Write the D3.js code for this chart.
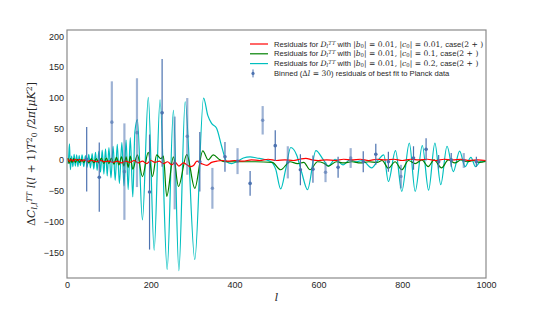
<!DOCTYPE html>
<html>
<head>
<meta charset="utf-8">
<script src="https://cdn.jsdelivr.net/npm/d3@7"></script>
<style>
  body { margin: 0; background: #fff; }
  svg { display: block; }
  .tick text { font-family: "Liberation Sans", Arial, sans-serif; font-size: 9px; fill: #262626; }
</style>
</head>
<body>
<div id="chart"></div>
<script>
"use strict";

// residual curves as [l, value] pairs at the wiggles
var redCurve = [
    [2, 2], [6, -3], [10, 1], [15, -2], [20, 1], [25, -1], [30, 1], [35, -2], [40, 0], [50, -2],
    [60, -1], [70, -3], [80, -1], [90, -3], [100, -2], [110, -4], [120, -2], [130, -5], [140, -2],
    [150, -4], [160, -1], [170, -5], [180, -2], [190, -6], [200, -1], [210, -4], [220, -2], [230, -6],
    [240, -3], [250, -8], [258, -4], [267, -10], [278, -5], [286, -8], [294, -11], [302, -9],
    [310, -2], [321, -6], [334, -9], [345, -4], [358, -2], [370, -1], [385, -2], [400, -1],
    [420, -2], [440, 0], [460, -1], [480, 1], [500, -1], [520, 0], [540, -1], [555, 1], [570, 2.5],
    [585, 0], [600, -1], [620, 0], [640, -1], [660, 1], [680, 0], [700, 1], [720, -1], [740, 1],
    [760, 0], [780, 1], [800, -1], [820, 1], [840, 0], [860, 1], [880, -1], [900, 1], [920, 0],
    [940, 1], [960, -1], [980, 0], [1000, -1]
];

var greenCurve = [
    [2, 3], [5, -6], [8, 2], [12, -4], [16, 2], [20, -4], [25, 1], [30, -4], [35, 1], [40, -4],
    [46, 2], [52, -5], [58, 2], [64, -5], [70, 2], [76, -5], [82, 3], [88, -6], [94, 3], [100, -6],
    [106, 3], [112, -7], [118, 4], [124, -8], [130, 5], [136, -10], [141, 5], [146, -12], [151, 6],
    [157, -15], [168, 8], [180, -27], [194, 12], [204, -27], [214, 8], [224, 2], [230, 6], [238, -59],
    [254, 5], [266, -43], [286, 8.6], [305, -46], [324, 14.6], [337, 0], [349, 8], [365, 0],
    [377, -3], [400, -3], [450, -3], [490, -4], [510, -16], [532, -3], [550, -6], [565, -4],
    [580, -16], [598, -3], [612, -5], [624, -10], [643, -3], [660, -5], [680, -3], [700, -5],
    [720, -3], [740, -4], [752, -1], [767, -13.5], [783, -3], [799, -16], [815, -1], [831, -6],
    [847, 0], [862, -11], [876, 0], [894, -13], [910, 0], [926, -5], [940, 0], [955, -3],
    [970, -1], [985, -4], [1000, -2]
];

var cyanCurve = [
    [2, -6], [4, 5], [6, 26], [8, -16], [11, 6], [14, -11], [17, 9], [20, -10], [23, 8], [26, -11],
    [29, 7], [32, -9], [36, 8], [40, -11], [44, 7], [48, -12], [52, 9], [56, -13], [60, 10], [64, -15],
    [68, 12], [72, -17], [76, 14], [80, -20], [84, 16], [88, -23], [92, 18], [96, -26], [100, 20],
    [105, -29], [110, 22], [115, -33], [120, 25], [125, -38], [131, 28], [136, -42], [141, 32],
    [146, -48], [151, 36], [157, -60], [162, 45], [168, 65], [180, -97], [194, 101], [208, -146],
    [222, 97], [239, -177], [254, 80], [267, -179], [282, 94], [305, -161], [326, 100], [336, 72],
    [345, 59], [357, 51], [369, 22], [381, -3], [393, -6], [405, -3], [421, 3], [437, 5], [453, 3],
    [470, 1], [487, -3], [498, -15], [510, -47], [522, -15], [534, 20], [548, 8], [560, -20],
    [574, -48], [594, 15], [612, 0], [624, -10], [640, 1], [659, -8], [675, 0], [690, -3],
    [705, -1], [727, -13], [743, 0], [756, 8], [767, -35], [784, 15], [799, -51], [817, 27],
    [831, -51], [848, 23], [863, -49], [878, 27], [892, -40], [907, 22], [922, -19], [937, 14],
    [950, -11], [964, 4], [975, -11], [988, -2], [1000, -3]
];

// binned planck residuals
var binL = [47, 77, 107, 137, 167, 197, 227, 257, 287, 317, 347, 377, 407, 437, 467, 497,
    527, 557, 587, 617, 647, 677, 707, 737, 767, 797, 827, 857, 887, 917, 947, 977];
var binVal = [1, -28, 61, -19, 44, -52, 76, -5, 38, -3, -46, 5, -2, -38, 64, 23,
    -4, -16, -15, -20, -12, 3, -3, 9, -3, -27, 3, 17, -3, 0, -1, -3];
var binErr = [52, 56, 66, 78, 88, 93, 87, 75, 62, 48, 33, 24, 21, 20, 23, 25,
    26, 25, 22, 16, 17, 16, 17, 17, 16, 19, 19, 18, 11, 11, 12, 8];
var binPale = [0, 0, 1, 1, 1, 0, 0, 1, 1, 0, 1, 0, 1, 0, 1, 0,
    1, 0, 0, 1, 0, 1, 0, 0, 0, 1, 0, 0, 0, 0, 1, 0];

var yTicks = [-150, -100, -50, 0, 50, 100, 150, 200];
var xTicks = [0, 200, 400, 600, 800, 1000];

var width = 540, height = 310;
var plot = { left: 67, right: 486, top: 30, bottom: 278 };

var svg = d3.select("#chart").append("svg")
    .attr("width", width)
    .attr("height", height);

var x = d3.scaleLinear().domain([0, 1000]).range([plot.left, plot.right]);
var y = d3.scaleLinear().domain([-191, 210]).range([plot.bottom, plot.top]);

svg.append("defs").append("clipPath").attr("id", "clip")
    .append("rect")
    .attr("x", plot.left).attr("y", plot.top)
    .attr("width", plot.right - plot.left).attr("height", plot.bottom - plot.top);

// axes, no tick marks (seaborn white)
var xAxis = svg.append("g")
    .attr("transform", "translate(0," + plot.bottom + ")")
    .call(d3.axisBottom(x).tickValues(xTicks).tickFormat(d3.format("d")).tickSize(0).tickPadding(4));
xAxis.select(".domain").remove();

var yAxis = svg.append("g")
    .attr("transform", "translate(" + plot.left + ",0)")
    .call(d3.axisLeft(y).tickValues(yTicks).tickSize(0).tickPadding(3));
yAxis.select(".domain").remove();

var line = d3.line()
    .x(function (d) { return x(d[0]); })
    .y(function (d) { return y(d[1]); })
    .curve(d3.curveMonotoneX);

var curves = svg.append("g").attr("clip-path", "url(#clip)");

function drawCurve(data, color) {
    curves.append("path")
        .datum(data)
        .attr("d", line)
        .attr("fill", "none")
        .attr("stroke", color)
        .attr("stroke-width", 1.2)
        .attr("stroke-linejoin", "round");
}

var bins = binL.map(function (l, i) {
    return { l: l, v: binVal[i], e: binErr[i], pale: binPale[i] };
});

var bars = curves.append("g");
bars.selectAll("line")
    .data(bins)
    .enter().append("line")
    .attr("x1", function (d) { return x(d.l); })
    .attr("x2", function (d) { return x(d.l); })
    .attr("y1", function (d) { return y(d.v + d.e); })
    .attr("y2", function (d) { return y(d.v - d.e); })
    .attr("stroke", "#4c72b0")
    .attr("stroke-width", function (d) { return d.pale ? 2.2 : 1.2; })
    .attr("stroke-opacity", function (d) { return d.pale ? 0.55 : 1; });

drawCurve(cyanCurve, "#00bfbf");
drawCurve(greenCurve, "#008000");
drawCurve(redCurve, "#ff0000");

bars.raise();
bars.selectAll("circle")
    .data(bins)
    .enter().append("circle")
    .attr("cx", function (d) { return x(d.l); })
    .attr("cy", function (d) { return y(d.v); })
    .attr("r", 1.8)
    .attr("fill", "#4c72b0")
    .attr("fill-opacity", function (d) { return d.pale ? 0.6 : 1; });

// frame
svg.append("rect")
    .attr("x", plot.left).attr("y", plot.top)
    .attr("width", plot.right - plot.left).attr("height", plot.bottom - plot.top)
    .attr("fill", "none")
    .attr("stroke", "#8a8a8a")
    .attr("stroke-width", 1.2);

// text made of pieces: [text, font, style, shift] where shift is "sub" / "sup"
var sans = "'Liberation Sans', Arial, sans-serif";
var serif = "'DejaVu Serif', 'Liberation Serif', serif";

function richText(sel, parts, size) {
    parts.forEach(function (p) {
        var t = sel.append("tspan")
            .text(p[0])
            .attr("font-family", p[1] === "s" ? sans : serif)
            .attr("font-style", p[2] === "i" ? "italic" : "normal");
        if (p[3] === "sub") t.attr("baseline-shift", "-25%").attr("font-size", size * 0.7);
        if (p[3] === "sup") t.attr("baseline-shift", "40%").attr("font-size", size * 0.7);
    });
}

function residualLabel(c0) {
    return [
        ["Residuals for ", "s"], ["D", "m", "i"], ["l", "m", "i", "sub"], ["TT", "m", "i", "sup"],
        [" with ", "s"], ["|", "m"], ["b", "m", "i"], ["0", "m", "", "sub"], ["| = 0.01,   |", "m"],
        ["c", "m", "i"], ["0", "m", "", "sub"], ["| = " + c0 + ", ", "m"], ["case", "s"], ["(2 + )", "m"]
    ];
}

var legendRows = [
    { color: "#ff0000", parts: residualLabel("0.01") },
    { color: "#008000", parts: residualLabel("0.1") },
    { color: "#00bfbf", parts: residualLabel("0.2") },
    { color: null, parts: [["Binned (", "s"], ["Δ", "m"], ["l", "m", "i"], [" = 30", "m"],
        [") residuals of best fit to Planck data", "s"]] }
];

var legend = svg.append("g");
var legendSize = 7.6;
legendRows.forEach(function (row, i) {
    var ly = 44 + i * 9.8;
    if (row.color) {
        legend.append("line")
            .attr("x1", 250).attr("x2", 268)
            .attr("y1", ly).attr("y2", ly)
            .attr("stroke", row.color).attr("stroke-width", 1.2);
    } else {
        legend.append("line")
            .attr("x1", 253).attr("x2", 253)
            .attr("y1", ly - 4).attr("y2", ly + 4)
            .attr("stroke", "#4c72b0").attr("stroke-width", 1);
        legend.append("circle")
            .attr("cx", 253).attr("cy", ly).attr("r", 1.6)
            .attr("fill", "#4c72b0");
    }
    var t = legend.append("text")
        .attr("x", 274).attr("y", ly + 2.6)
        .attr("font-size", legendSize)
        .attr("fill", "#262626");
    richText(t, row.parts, legendSize);
});

// axis titles
var yLabel = svg.append("text")
    .attr("transform", "translate(35," + (plot.top + plot.bottom) / 2 + ") rotate(-90)")
    .attr("text-anchor", "middle")
    .attr("font-size", 11)
    .attr("fill", "#262626");
richText(yLabel, [
    ["Δ", "m"], ["C", "m", "i"], ["l,l", "m", "i", "sub"], ["TT", "m", "i", "sup"], [" l", "m", "i"], ["(", "m"],
    ["l", "m", "i"], [" + 1)", "m"], ["T", "m", "i"], ["2", "m", "", "sup"], ["0", "m", "", "sub"],
    [" /2", "m"], ["π", "m", "i"], ["[", "m"], ["μK", "m", "i"], ["2", "m", "", "sup"], ["]", "m"]
], 11);

svg.append("text")
    .attr("x", x(500))
    .attr("y", 301)
    .attr("text-anchor", "middle")
    .attr("font-family", serif)
    .attr("font-style", "italic")
    .attr("font-size", 11)
    .attr("fill", "#262626")
    .text("l");
</script>
</body>
</html>
